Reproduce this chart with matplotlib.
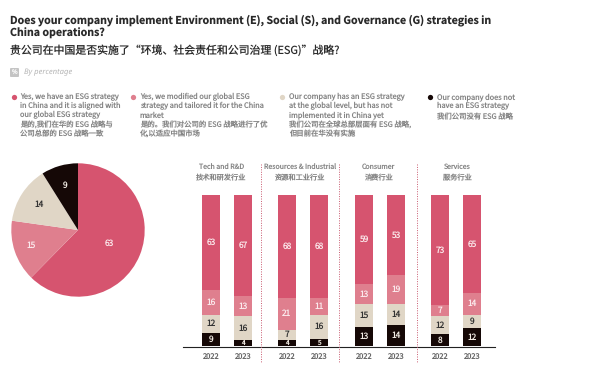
import numpy as np
import matplotlib
matplotlib.use("Agg")
from matplotlib import pyplot as plt
from matplotlib.patches import FancyBboxPatch

plt.rcParams['font.family'] = ['Noto Sans CJK SC', 'DejaVu Sans']
plt.rcParams['text.hinting'] = 'no_hinting'
plt.rcParams['text.hinting_factor'] = 1

W, H = 594, 373

# overall shares, pie
pie_values = [63, 15, 14, 9]

# sectors and years
sectors_en = ['Tech and R&D', 'Resources & Industrial', 'Consumer', 'Services']
sectors_cn = ['技术和研发行业', '资源和工业行业', '消费行业', '服务行业']
years = ['2022', '2023']

# stacked from the bottom, two bars per sector
no_strategy = [9, 4, 4, 5, 13, 14, 8, 12]
global_only = [12, 16, 7, 16, 15, 14, 12, 9]
modified = [16, 13, 21, 11, 13, 19, 7, 14]
aligned = [63, 67, 68, 68, 59, 53, 73, 65]

title_lines = ['Does your company implement Environment (E), Social (S), and Governance (G) strategies in',
               'China operations?']
title_cn = '贵公司在中国是否实施了“环境、社会责任和公司治理 (ESG)”战略?'

legend_texts = [
    ['Yes, we have an ESG strategy', 'in China and it is aligned with', 'our global ESG strategy',
     '是的,我们在华的 ESG 战略与', '公司总部的 ESG 战略一致'],
    ['Yes, we modified our global ESG', 'strategy and tailored it for the China', 'market',
     '是的。我们对公司的 ESG 战略进行了优', '化,以适应中国市场'],
    ['Our company has an ESG strategy', 'at the global level, but has not', 'implemented it in China yet',
     '我们公司在全球总部层面有 ESG 战略,', '但目前在华没有实施'],
    ['Our company does not', 'have an ESG strategy', '我们公司没有 ESG 战略'],
]

PINK = '#D6546F'
ROSE = '#DF7F8E'
BEIGE = '#E0D6C6'
DARK = '#150806'
colors = [PINK, ROSE, BEIGE, DARK]
GREY = '#858585'


def px_axes(x0, y0, x1, y1):
    # axes from pixel box, y counted from the top
    return fig.add_axes([x0 / W, 1 - y1 / H, (x1 - x0) / W, (y1 - y0) / H])


fig = plt.figure(figsize=(W / 100, H / 100), dpi=100)

# page layer in pixel coordinates for the texts
page = fig.add_axes([0, 0, 1, 1])
page.set_xlim(0, W)
page.set_ylim(H, 0)
page.axis('off')

page.text(9.5, 20.5, title_lines[0], fontsize=7.65, fontweight='bold', color='#2a2a2a', va='center')
page.text(9.5, 33.5, title_lines[1], fontsize=7.65, fontweight='bold', color='#2a2a2a', va='center')
page.text(9.5, 50, title_cn, fontsize=7.85, color='#2a2a2a', va='center')

page.add_patch(FancyBboxPatch((11, 69), 7, 7, boxstyle='round,pad=1', fc='#c4c4c4', ec='none'))
page.text(14.5, 72.5, '%', fontsize=4.4, color='white', ha='center', va='center')
page.text(24, 72.5, 'By percentage', fontsize=5.5, style='italic', family='Noto Sans',
          color='#b5b5b5', va='center')

# legend
legend_x = [13.5, 133, 282, 430]
legend_y = [97.3, 106.3, 115.3, 125, 134]
for x, lines, c in zip(legend_x, legend_texts, colors):
    page.plot([x], [97.3], 'o', ms=3.8, color=c, mec='none')
    if len(lines) == 3:
        ys = [legend_y[0], legend_y[1], 117]
    else:
        ys = legend_y
    for line, y in zip(lines, ys):
        page.text(x + 7, y, line, fontsize=5.3, color=GREY, va='center')

# pie
ax_pie = px_axes(78 - 66.7, 230 - 66.7, 78 + 66.7, 230 + 66.7)
wedges, _ = ax_pie.pie(pie_values, colors=colors, startangle=90, counterclock=False, radius=1)
ax_pie.set_xlim(-1, 1)
ax_pie.set_ylim(-1, 1)
pie_label_r = [0.51, 0.74, 0.69, 0.69]
pie_label_c = ['#fbe9ec', '#fbe9ec', '#333333', '#f2ece4']
for w, v, r, c in zip(wedges, pie_values, pie_label_r, pie_label_c):
    a = np.deg2rad((w.theta1 + w.theta2) / 2)
    ax_pie.text(r * np.cos(a), r * np.sin(a), str(v), fontsize=6, color=c, ha='center', va='center')

# stacked bars, x axis runs in pixels so the groups sit on the reference columns
ax = px_axes(183, 195, 495, 346.3)
ax.set_xlim(183, 495)
ax.set_ylim(0, 100)
ax.axis('off')
ax.patch.set_alpha(0)

group_left = [211, 287, 364, 440]
pitch = 32
bar_w = 18
xs = [g + i * pitch for g in group_left for i in range(2)]

series = [no_strategy, global_only, modified, aligned]
series_colors = [DARK, BEIGE, ROSE, PINK]
text_colors = ['#f2ece4', '#333333', '#fbe9ec', '#fbe9ec']
bottom = np.zeros(len(xs))
for vals, c, tc in zip(series, series_colors, text_colors):
    ax.bar(xs, vals, bottom=bottom, width=bar_w, color=c, linewidth=0)
    for x, b, v in zip(xs, bottom, vals):
        fs = 4.6 if v < 6 else 6
        ax.text(x, b + v / 2, str(v), fontsize=fs, color=tc, ha='center', va='center')
    bottom = bottom + np.array(vals)

# baseline and separators on the page layer
page.plot([183, 495], [346.5, 346.5], color='#222222', lw=0.8)
for sep in [261, 339, 417]:
    page.plot([sep, sep], [164, 362], color='#c9596f', lw=0.7, ls=(0, (1, 1.5)))

for i, x in enumerate(xs):
    page.text(x, 358, years[i % 2], fontsize=5.4, color='#666666', ha='center', va='center')

label_x = [221.5, 300, 378.5, 457]
for c, en, cn in zip(label_x, sectors_en, sectors_cn):
    page.text(c, 167, en, fontsize=5, color=GREY, ha='center', va='center')
    page.text(c, 178, cn, fontsize=5.2, color=GREY, ha='center', va='center')

fig.savefig('out.png', dpi=100)
